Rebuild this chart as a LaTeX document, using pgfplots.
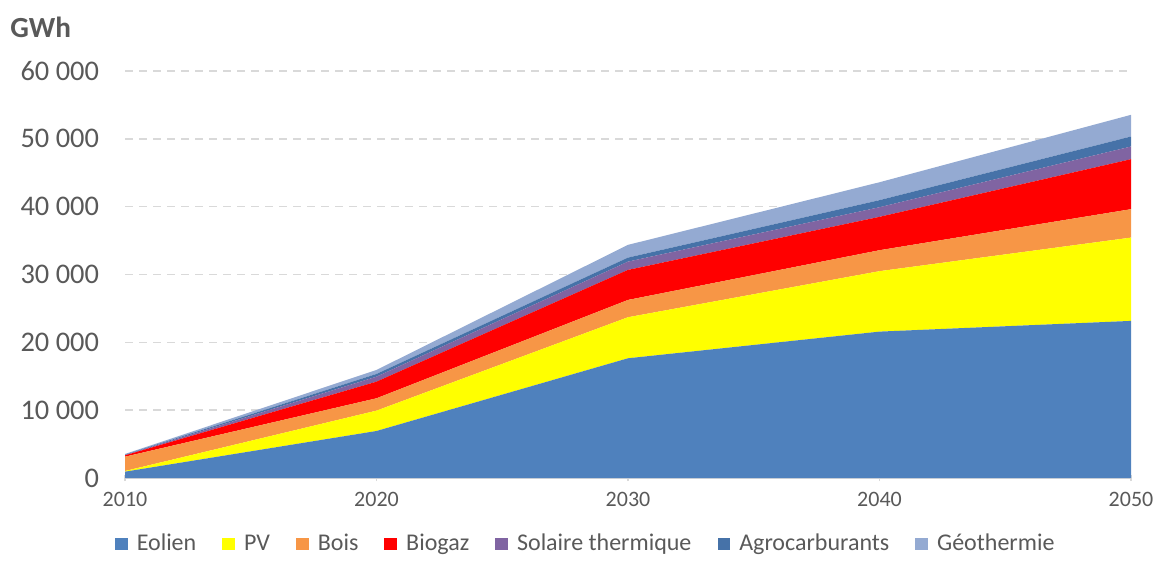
\documentclass[border=0pt]{standalone}
\usepackage{fontspec}
\setmainfont{Carlito}
\usepackage{pgfplots}
\pgfplotsset{compat=1.18}
\definecolor{eol}{HTML}{4F81BD}
\definecolor{pv}{HTML}{FFFF00}
\definecolor{bois}{HTML}{F79646}
\definecolor{biog}{HTML}{FF0000}
\definecolor{sol}{HTML}{8064A2}
\definecolor{agro}{HTML}{4672A8}
\definecolor{geo}{HTML}{94AAD2}
\definecolor{txt}{HTML}{595959}
\definecolor{gridc}{HTML}{D9D9D9}
\begin{document}
\begin{tikzpicture}
\path[use as bounding box] (-62.5pt,-41.5pt) rectangle (517pt,239pt);
\begin{axis}[
  at={(0,0)}, anchor=south west,
  scale only axis, width=503pt, height=203.5pt,
  xmin=2010, xmax=2050, ymin=0, ymax=60000,
  stack plots=y,
  axis x line=bottom, axis y line=left,
  axis line style={-},
  x axis line style={draw=gridc, line width=0.8pt},
  y axis line style={draw=none},
  xtick={2010,2020,2030,2040,2050},
  ytick={0,10000,20000,30000,40000,50000,60000},
  xtick style={draw=gridc, line width=0.8pt},
  major tick length=3pt,
  ytick style={draw=none},
  ymajorgrids, grid style={draw=gridc, dash pattern=on 4pt off 3pt, line width=0.7pt},
  scaled y ticks=false,
  /pgf/number format/assume math mode=true,
  yticklabel style={/pgf/number format/1000 sep={\ }, font=\fontsize{14.2}{16}\selectfont, text=txt, xshift=-8pt},
  xticklabel style={/pgf/number format/1000 sep={}, font=\fontsize{11}{13}\selectfont, text=txt, yshift=-2pt},
  legend style={at={(0.458,-0.162)}, anchor=center, draw=none, fill=none,
    font=\fontsize{12}{14}\selectfont, text=txt, legend columns=7,
    inner sep=0pt, nodes={inner sep=1pt},
    /tikz/every odd column/.append style={column sep=3.5pt},
    /tikz/every even column/.append style={column sep=12pt}},
  legend image code/.code={\fill[#1] (0pt,-3.2pt) rectangle (6.4pt,3.2pt);},
]
\addplot[fill=eol, draw=none] coordinates {(2010,930) (2020,6930) (2030,17650) (2040,21580) (2050,23160)} \closedcycle;
\addplot[fill=pv, draw=none] coordinates {(2010,100) (2020,3000) (2030,6050) (2040,8910) (2050,12280)} \closedcycle;
\addplot[fill=bois, draw=none] coordinates {(2010,2110) (2020,1820) (2030,2550) (2040,3090) (2050,4190)} \closedcycle;
\addplot[fill=biog, draw=none] coordinates {(2010,200) (2020,2450) (2030,4430) (2040,4920) (2050,7370)} \closedcycle;
\addplot[fill=sol, draw=none] coordinates {(2010,50) (2020,740) (2030,1220) (2040,1420) (2050,1870)} \closedcycle;
\addplot[fill=agro, draw=none] coordinates {(2010,50) (2020,400) (2030,590) (2040,1040) (2050,1470)} \closedcycle;
\addplot[fill=geo, draw=none] coordinates {(2010,100) (2020,590) (2030,1880) (2040,2640) (2050,3200)} \closedcycle;
\legend{Eolien, PV, Bois, Biogaz, Solaire thermique, Agrocarburants, Géothermie}
\end{axis}
\node[text=txt, font=\fontsize{14.6}{16}\selectfont\bfseries, anchor=west, inner sep=0pt] at (-57.5pt,225.5pt) {GWh};
\end{tikzpicture}
\end{document}
